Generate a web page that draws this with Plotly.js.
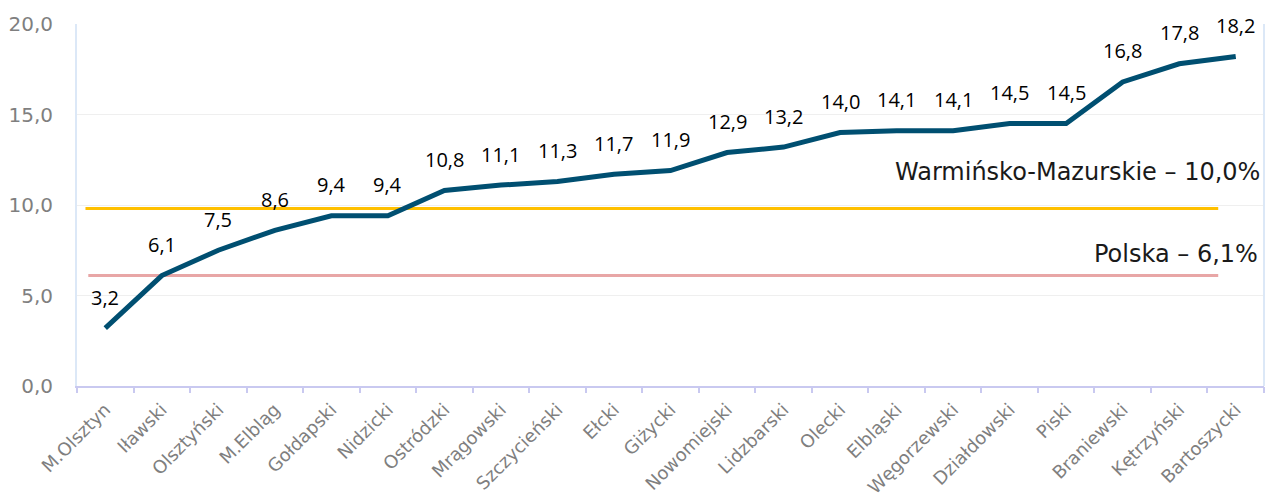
<!DOCTYPE html>
<html><head><meta charset="utf-8">
<script src="https://cdn.plot.ly/plotly-3.0.1.min.js"></script>
<style>html,body{margin:0;padding:0;background:#fff}#chart{width:1266px;height:497px}</style>
</head><body><div id="chart"></div>
<script>
const categories = ["M.Olsztyn","Iławski","Olsztyński","M.Elbląg","Gołdapski","Nidzicki","Ostródzki","Mrągowski","Szczycieński","Ełcki","Giżycki","Nowomiejski","Lidzbarski","Olecki","Elbląski","Węgorzewski","Działdowski","Piski","Braniewski","Kętrzyński","Bartoszycki"];
const values = [3.2,6.1,7.5,8.6,9.4,9.4,10.8,11.1,11.3,11.7,11.9,12.9,13.2,14.0,14.1,14.1,14.5,14.5,16.8,17.8,18.2];
const regionValue = 9.8;   // drawn position of the regional line
const polandValue = 6.1;
const regionLabel = "Warmińsko-Mazurskie – 10,0%";
const polandLabel = "Polska – 6,1%";
const yTicks = [0,5,10,15,20];

const idx = categories.map((c,i)=>i);
const fmt = v => v.toFixed(1).replace('.', ',');
const lightFont = 'DejaVu Sans ExtraLight, DejaVu Sans, sans-serif';

const traces = [
  {x:[-0.35,19.69], y:[regionValue,regionValue], mode:'lines', line:{color:'#FFC000', width:3}, hoverinfo:'skip'},
  {x:[-0.30,19.69], y:[polandValue,polandValue], mode:'lines', line:{color:'#E8A6A6', width:3}, hoverinfo:'skip'},
  {x:idx, y:values, mode:'lines', line:{color:'#004F71', width:5}, hoverinfo:'skip'}
];

const annotations = values.map((v,i)=>({
  x:i, y:v, text:fmt(v), showarrow:false, yshift:31, xanchor:'center', yanchor:'middle',
  font:{family:'Open Sans, Noto Sans, sans-serif', size:20, color:'#000'}
}));
annotations.push({xref:'paper', yref:'y', x:1, y:regionValue, xanchor:'right', yanchor:'middle', xshift:-2, yshift:37, showarrow:false, text:regionLabel, font:{family:lightFont, size:24, color:'#1a1a1a'}});
annotations.push({xref:'paper', yref:'y', x:1, y:polandValue, xanchor:'right', yanchor:'middle', xshift:-4, yshift:22, showarrow:false, text:polandLabel, font:{family:lightFont, size:24, color:'#1a1a1a'}});

const layout = {
  width:1266, height:497,
  margin:{l:77, r:2, t:24, b:111},
  showlegend:false,
  separators:', ',
  paper_bgcolor:'#fff', plot_bgcolor:'#fff',
  xaxis:{
    type:'linear', range:[-0.5,20.5],
    tickmode:'array', tickvals:idx, ticktext:categories, tickangle:-45,
    ticks:'', showgrid:false, zeroline:false,
    showline:true, linecolor:'#C9C9F0', linewidth:2,
    ticklabelstandoff:4,
    tickfont:{family:lightFont, size:18, color:'#7f7f7f'}
  },
  xaxis2:{overlaying:'x', range:[-0.5,20.5], tickmode:'array', tickvals:idx.concat([21]).map(v=>v-0.5), ticktext:idx.concat([21]).map(()=>''), ticks:'outside', ticklen:6, tickcolor:'#C9C9F0', tickwidth:2, showgrid:false, zeroline:false, showline:false, anchor:'y'},
  yaxis:{
    range:[0,20], tickmode:'array', tickvals:yTicks, ticktext:yTicks.map(fmt),
    showgrid:true, gridcolor:'#EFEFEF', gridwidth:1, zeroline:false,
    showline:true, linecolor:'#DCE8F7', linewidth:2, ticks:'',
    ticklabelstandoff:18,
    tickfont:{family:lightFont, size:20, color:'#7f7f7f'}
  },
  shapes:[
    {type:'line', xref:'paper', yref:'paper', x0:1, x1:1, y0:0, y1:1, line:{color:'#DCE8F7', width:2}}
  ],
  annotations:annotations
};
traces.push({x:[0], y:[0], xaxis:'x2', mode:'markers', marker:{opacity:0}, hoverinfo:'skip'});
Plotly.newPlot('chart', traces, layout, {displayModeBar:false, staticPlot:true});
</script></body></html>
